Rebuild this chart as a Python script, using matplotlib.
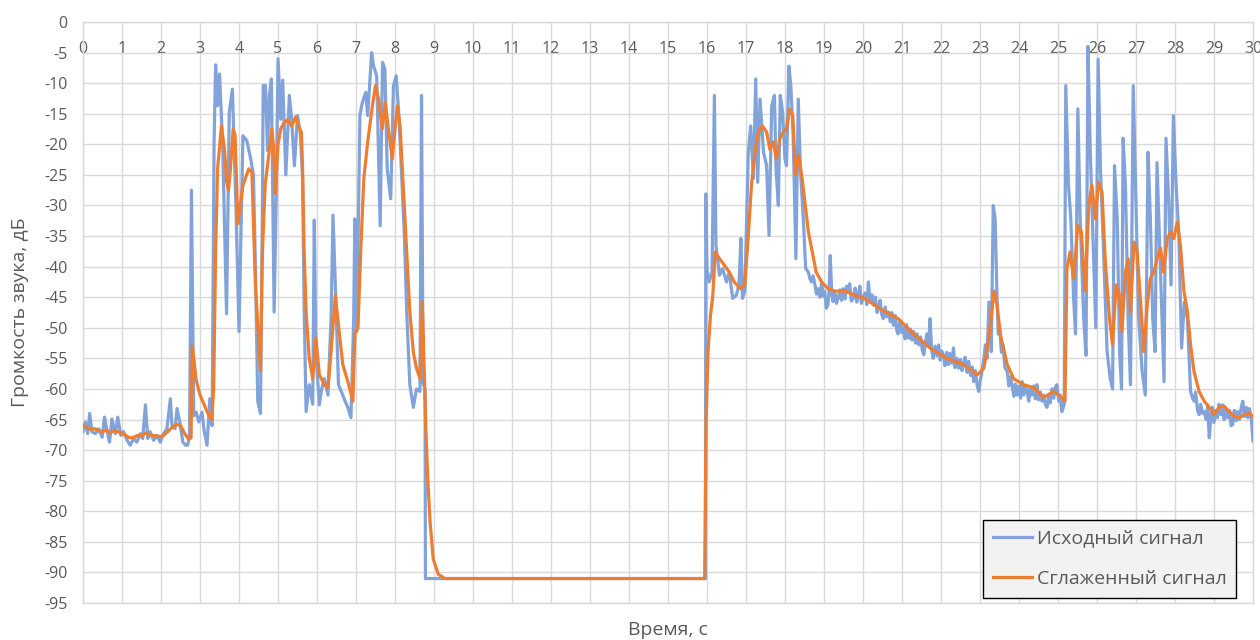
import numpy as np
import matplotlib.pyplot as plt

# Исходный сигнал: пары (время, с ; громкость, дБ), по участкам
raw_start = [(0.00, -67), (0.06, -65.4), (0.12, -67.3), (0.17, -64), (0.23, -67), (0.32, -67.3),
             (0.40, -66.5), (0.49, -67.9), (0.55, -64.6), (0.62, -67), (0.68, -68.7), (0.74, -64.9),
             (0.83, -67.3), (0.89, -64.6), (0.97, -67.6), (1.04, -67), (1.13, -68.4), (1.21, -69.2),
             (1.30, -68.1), (1.38, -68.7), (1.47, -67.3), (1.53, -68.1), (1.60, -62.6), (1.66, -68.1),
             (1.72, -67), (1.81, -68.4), (1.90, -67.6), (1.98, -68.7), (2.07, -67.3), (2.15, -66.5),
             (2.24, -61.6), (2.28, -66), (2.36, -66.5), (2.41, -63.2), (2.48, -65.4), (2.56, -68.7),
             (2.63, -69.2), (2.68, -69.2), (2.73, -67.9), (2.78, -27.5), (2.84, -64.4), (2.90, -63.8),
             (2.97, -65.4), (3.05, -63.8), (3.11, -67), (3.18, -69.2), (3.25, -61.6), (3.31, -66)]
raw_burst1 = [(3.36, -20), (3.40, -7), (3.45, -13.7), (3.50, -8.5), (3.58, -20), (3.68, -47.7),
              (3.75, -14.8), (3.83, -11), (3.92, -30), (4.00, -50.6), (4.10, -18.6), (4.20, -19.4),
              (4.30, -22.4), (4.37, -25), (4.42, -39.8), (4.48, -62), (4.55, -64), (4.60, -30),
              (4.62, -10.4), (4.68, -10.4), (4.73, -21), (4.78, -12), (4.83, -9.3), (4.90, -47.4),
              (4.95, -30), (5.00, -6), (5.07, -15.9), (5.12, -9.5), (5.20, -25), (5.29, -12),
              (5.35, -16), (5.42, -23.5), (5.50, -15.3), (5.57, -18), (5.63, -25.6), (5.67, -46.8),
              (5.72, -63.7), (5.80, -59.3), (5.89, -62.5), (5.93, -32.4), (5.97, -54), (6.06, -62.6),
              (6.12, -60), (6.19, -58.3), (6.28, -61), (6.36, -48.5), (6.41, -31.6), (6.47, -43),
              (6.55, -59.3), (6.66, -61), (6.72, -62), (6.79, -63), (6.87, -64.7), (6.94, -48.5),
              (6.97, -32.2), (7.02, -50.6), (7.10, -15.3), (7.16, -13.2), (7.25, -11.5), (7.30, -15.3),
              (7.40, -5), (7.45, -7.2), (7.53, -8.8), (7.62, -33.3), (7.68, -6.6), (7.74, -7.7),
              (7.80, -24), (7.89, -28.9), (7.96, -10.4), (8.03, -8.8), (8.10, -15.3), (8.18, -26.7),
              (8.24, -34.9), (8.30, -47.4), (8.38, -59.3), (8.47, -63), (8.55, -60), (8.64, -60.4),
              (8.68, -12), (8.72, -59), (8.77, -60)]
raw_silence = [(8.78, -91), (15.96, -91)]
raw_burst2 = [(15.97, -28.1), (16.00, -40.5), (16.06, -42.5), (16.13, -40.9), (16.19, -12),
              (16.23, -36.5), (16.32, -41.4), (16.40, -40.3), (16.50, -42.5), (16.57, -40.9),
              (16.66, -45.2), (16.75, -44.7), (16.82, -43), (16.87, -35.4), (16.91, -45.2),
              (16.97, -44), (17.06, -21.3), (17.12, -17), (17.19, -25.6), (17.25, -9.3), (17.30, -26.2),
              (17.36, -12.6), (17.45, -21.3), (17.53, -23.5), (17.59, -34.9), (17.66, -13.7),
              (17.73, -12), (17.77, -24), (17.83, -30), (17.88, -12), (17.94, -14.8), (18.00, -22.4),
              (18.04, -23.5), (18.10, -7.2), (18.15, -10.4), (18.21, -18.6), (18.28, -38.7),
              (18.34, -12.6), (18.40, -24.6), (18.47, -32.2), (18.53, -40.3)]
raw_decay = [(18.60, -40.9), (18.64, -42), (18.68, -42.5), (18.72, -41.5), (18.77, -43), (18.81, -44.5),
             (18.85, -43.6), (18.90, -45), (18.94, -42.5), (18.98, -44.8), (19.02, -44), (19.06, -46.8),
             (19.10, -46.3), (19.13, -44), (19.16, -38.2), (19.20, -44.5), (19.23, -45.7), (19.28, -44.2),
             (19.32, -46), (19.36, -45.2), (19.41, -43.8), (19.45, -45.5), (19.49, -43.6), (19.54, -45.3),
             (19.58, -43.2), (19.62, -44), (19.66, -42.8), (19.70, -45.6), (19.75, -45.2), (19.80, -43.5),
             (19.84, -45.8), (19.88, -44.7), (19.92, -43.2), (19.96, -46), (20.00, -45.2), (20.05, -44.3),
             (20.10, -46.2), (20.14, -42.5), (20.18, -45.8), (20.23, -44.6), (20.27, -46.3), (20.32, -45),
             (20.36, -47.5), (20.40, -46.8), (20.44, -45.5), (20.48, -47.8), (20.52, -48.5), (20.57, -46.6),
             (20.61, -48.2), (20.65, -47.4), (20.70, -49), (20.74, -47.5), (20.78, -49.6), (20.83, -48),
             (20.87, -50.5), (20.90, -51), (20.95, -48.8), (21.00, -50.8), (21.04, -50), (21.08, -51.8),
             (21.12, -49.5), (21.17, -51.7), (21.22, -50.2), (21.26, -52), (21.30, -50.6), (21.35, -52.5),
             (21.39, -51), (21.43, -52.8), (21.48, -51.5), (21.52, -53.6), (21.56, -54.4), (21.60, -52.5),
             (21.64, -51), (21.68, -53), (21.72, -48.5), (21.76, -53.5), (21.80, -55), (21.85, -53),
             (21.90, -54.6), (21.94, -52.8), (21.98, -55.3), (22.02, -53.8), (22.06, -54.4), (22.10, -56.2),
             (22.15, -54), (22.19, -56), (22.23, -54.2), (22.28, -55.8), (22.32, -53.3), (22.36, -56.5),
             (22.41, -55), (22.45, -56.6), (22.50, -55.2), (22.54, -57), (22.58, -56), (22.62, -54.8),
             (22.67, -57.3), (22.71, -55.5), (22.76, -57.8), (22.80, -56.4), (22.84, -58.8), (22.88, -57),
             (22.93, -59.5), (22.97, -60.4), (23.01, -58.5), (23.05, -57.2), (23.10, -55), (23.14, -52.8),
             (23.18, -55), (23.23, -45.8), (23.26, -50), (23.29, -53.9), (23.34, -30), (23.39, -32.2),
             (23.44, -45.8), (23.47, -51), (23.50, -49.6), (23.55, -54), (23.59, -52.8), (23.64, -56.5),
             (23.70, -57.2), (23.74, -59.5), (23.78, -58), (23.82, -59.3), (23.87, -61.2), (23.91, -59.2),
             (23.95, -61), (24.00, -59.5), (24.04, -61.5), (24.08, -58.8), (24.12, -61), (24.17, -59.6),
             (24.21, -60.4), (24.25, -62), (24.29, -59.8), (24.33, -61), (24.38, -59.5), (24.42, -61.6),
             (24.46, -59.3), (24.50, -61.8), (24.55, -60.5), (24.59, -62), (24.63, -61), (24.68, -62.6),
             (24.72, -63), (24.76, -61), (24.80, -62.3), (24.85, -60), (24.89, -61.5), (24.93, -59.8),
             (24.97, -59.3), (25.02, -62), (25.06, -61), (25.10, -63.7), (25.16, -62.6)]
raw_burst3 = [(25.20, -10.4), (25.27, -26.7), (25.33, -32.2), (25.40, -45), (25.45, -51), (25.51, -14.2),
              (25.57, -32.2), (25.66, -48.5), (25.72, -54.5), (25.77, -4), (25.83, -21.3), (25.91, -37.6),
              (25.97, -50), (26.03, -6.1), (26.09, -24), (26.17, -37.6), (26.26, -53.9), (26.34, -58.3),
              (26.40, -60), (26.45, -23.5), (26.52, -32.2), (26.58, -53.9), (26.63, -60), (26.67, -19),
              (26.73, -26.7), (26.80, -48.5), (26.86, -59.3), (26.93, -10.4), (26.99, -26.7),
              (27.07, -48.5), (27.16, -57.2), (27.24, -61), (27.31, -21.3), (27.37, -32.2), (27.43, -48.5),
              (27.49, -53.9), (27.54, -23), (27.60, -35), (27.67, -48.5), (27.72, -58.8), (27.77, -19),
              (27.84, -29.5), (27.90, -43), (27.96, -15.3), (28.03, -26.7), (28.10, -35), (28.17, -53.3),
              (28.24, -45.8), (28.32, -48.5)]
raw_end = [(28.40, -60.4), (28.45, -61.5), (28.49, -62), (28.53, -60.5), (28.58, -63.5), (28.62, -64.2),
           (28.66, -62.5), (28.71, -64), (28.75, -63.7), (28.80, -65), (28.84, -62.8), (28.88, -68),
           (28.92, -64.5), (28.96, -63), (29.00, -65.5), (29.05, -63.5), (29.09, -64.7), (29.13, -62.5),
           (29.18, -64.2), (29.22, -62.6), (29.26, -65), (29.31, -63.2), (29.35, -64.7), (29.40, -63.5),
           (29.44, -66), (29.48, -65.8), (29.52, -63.5), (29.57, -65.2), (29.61, -63.7), (29.65, -65),
           (29.70, -63), (29.74, -62), (29.78, -64.5), (29.83, -63), (29.87, -64.7), (29.91, -63.2),
           (29.96, -65), (30.00, -68.5)]

# Сглаженный сигнал
smooth_a = [(0.00, -66), (0.10, -66.3), (0.20, -66.6), (0.30, -66.5), (0.40, -66.8), (0.50, -67),
            (0.60, -66.7), (0.70, -67.2), (0.80, -66.8), (0.90, -67), (1.00, -67.3), (1.10, -67.6),
            (1.20, -68), (1.30, -67.9), (1.40, -67.6), (1.50, -67.7), (1.60, -67.2), (1.70, -67.5),
            (1.80, -67.6), (1.90, -67.7), (2.00, -67.8), (2.10, -67.4), (2.20, -66.8), (2.30, -66.2),
            (2.40, -65.8), (2.50, -66), (2.60, -67.2), (2.70, -68.2), (2.77, -68), (2.80, -53),
            (2.85, -55.5), (2.90, -58.5), (3.00, -61), (3.10, -62.5), (3.20, -64), (3.30, -65),
            (3.35, -60), (3.40, -37.6), (3.45, -24), (3.55, -17), (3.63, -21), (3.68, -26),
            (3.73, -27.5), (3.78, -24), (3.85, -17.5), (3.90, -18.6), (3.97, -33), (4.03, -30),
            (4.10, -26.7), (4.25, -24), (4.33, -24.6), (4.42, -43), (4.55, -57), (4.60, -37.6),
            (4.67, -26.7), (4.75, -22.4), (4.84, -17.5), (4.88, -20), (4.93, -28), (5.00, -20),
            (5.07, -17.5), (5.15, -16.5), (5.25, -16), (5.35, -17), (5.45, -15.5), (5.55, -17.5),
            (5.60, -18), (5.63, -24), (5.67, -37.6), (5.72, -47.4), (5.80, -55), (5.89, -58.3),
            (5.97, -51.7), (6.06, -57.7), (6.19, -59.3), (6.28, -59.8), (6.36, -54), (6.47, -44.7),
            (6.55, -49.6), (6.66, -56), (6.79, -58.8), (6.92, -62), (6.97, -51), (7.05, -50),
            (7.12, -37.6), (7.20, -25.6), (7.30, -19.6), (7.42, -13.7), (7.50, -10.4), (7.58, -12.6),
            (7.67, -17.5), (7.75, -13.2), (7.84, -18), (7.93, -22.4), (8.00, -17.5), (8.06, -13.7),
            (8.13, -17), (8.20, -25.6), (8.30, -37.6), (8.38, -47.4), (8.47, -54), (8.55, -56.6),
            (8.64, -58.3), (8.70, -45.7), (8.74, -55), (8.79, -66.4), (8.84, -74.7), (8.90, -81.8),
            (8.98, -87.8), (9.11, -90.3), (9.28, -91)]
smooth_b = [(15.94, -91), (15.98, -64.4), (16.03, -53.5), (16.09, -48), (16.15, -44.7), (16.21, -37.6),
            (16.32, -38.7), (16.45, -39.8), (16.57, -40.9), (16.70, -42.5), (16.85, -43.6), (16.97, -43),
            (17.06, -34.9), (17.14, -26.7), (17.23, -21.3), (17.32, -18), (17.42, -17), (17.53, -18),
            (17.61, -20.8), (17.70, -19.6), (17.78, -22.4), (17.87, -19), (17.96, -18), (18.04, -17.5),
            (18.12, -14.2), (18.20, -15.3), (18.27, -25), (18.35, -21.8), (18.44, -25.6), (18.53, -30.5),
            (18.60, -34.3), (18.70, -37.6), (18.80, -40.9), (18.94, -42.5), (19.10, -43.6), (19.28, -44),
            (19.54, -44), (19.80, -44.7), (20.05, -45.2), (20.30, -46.3), (20.57, -47.4), (20.90, -48.5),
            (21.30, -51), (21.72, -53.3), (22.15, -55), (22.58, -56), (22.93, -57.7), (23.10, -56.6),
            (23.23, -51.7), (23.36, -44), (23.44, -46.3), (23.52, -51), (23.60, -53.3), (23.70, -56),
            (23.86, -58.3), (24.12, -59.3), (24.38, -59.8), (24.63, -61.4), (24.89, -60.4),
            (25.10, -61.4), (25.18, -62)]
smooth_c = [(25.23, -40.3), (25.31, -37.6), (25.40, -41.9), (25.51, -33.3), (25.60, -34.3), (25.70, -44),
            (25.79, -30), (25.87, -26.7), (25.96, -32.2), (26.04, -26.2), (26.13, -27.8), (26.21, -38.7),
            (26.32, -48.5), (26.40, -52.8), (26.49, -43), (26.58, -44.7), (26.64, -50.6), (26.73, -40.9),
            (26.80, -38.7), (26.86, -47.4), (26.95, -36), (27.03, -37.6), (27.12, -45.8), (27.20, -53.9),
            (27.29, -46.3), (27.37, -41.9), (27.46, -40.9), (27.54, -38.7), (27.63, -37), (27.71, -40.9),
            (27.80, -35.4), (27.89, -34.3), (27.97, -35.4), (28.06, -32.7), (28.14, -36.5), (28.23, -44),
            (28.32, -47.4), (28.40, -52.8), (28.49, -57.2), (28.62, -60.4), (28.75, -62), (28.88, -63),
            (29.00, -64.2), (29.13, -63), (29.26, -62.8), (29.39, -63.7), (29.52, -64.5), (29.65, -64.7),
            (29.78, -64.2), (29.91, -64), (30.00, -64.5)]

labels = ['Исходный сигнал', 'Сглаженный сигнал']

raw = raw_start + raw_burst1 + raw_silence + raw_burst2 + raw_decay + raw_burst3 + raw_end
smooth = smooth_a + smooth_b + smooth_c
t_raw, v_raw = zip(*raw)
t_smooth, v_smooth = zip(*smooth)

plt.rcParams['font.family'] = ['Open Sans', 'DejaVu Sans']
plt.rcParams['axes.unicode_minus'] = False
grey = '#595959'
gridc = '#d9d9d9'

fig = plt.figure(figsize=(12.6, 6.4), dpi=100)
ax = fig.add_axes([0.0659, 0.0578, 0.9285, 0.9078])

ax.plot(t_raw, v_raw, color='#82A3DA', lw=2.3, label=labels[0], zorder=3)
ax.plot(t_smooth, v_smooth, color='#ED7D31', lw=2.3, label=labels[1], zorder=4)

ax.set_xlim(0, 30)
ax.set_ylim(-95, 0)
ax.set_xticks(np.arange(0, 31, 1))
ax.set_yticks(np.arange(-95, 1, 5))
ax.grid(True, color=gridc, lw=1.0, zorder=0)
for s in ax.spines.values():
    s.set_color(gridc)
    s.set_linewidth(1.0)

# подписи оси X сверху, внутри области графика
ax.xaxis.tick_top()
ax.tick_params(axis='x', length=0, pad=-25, labelsize=11.5, labelcolor=grey)
ax.tick_params(axis='y', length=0, pad=11, labelsize=11.5, labelcolor=grey)

ax.set_xlabel('Время, с', fontsize=14, color=grey)
ax.xaxis.set_label_position('bottom')
ax.xaxis.labelpad = 13
ax.set_ylabel('Громкость звука, дБ', fontsize=14, color=grey, labelpad=11)

leg = ax.legend(loc='lower right', bbox_to_anchor=(0.9855, 0.009), fontsize=14,
                fancybox=False, edgecolor='black', facecolor='#f2f2f2', framealpha=1,
                handlelength=2.0, handletextpad=0.25, labelspacing=1.15, borderpad=0.5,
                borderaxespad=0)
leg.get_frame().set_linewidth(1.0)
for txt in leg.get_texts():
    txt.set_color(grey)

fig.savefig('out.png', dpi=100)
